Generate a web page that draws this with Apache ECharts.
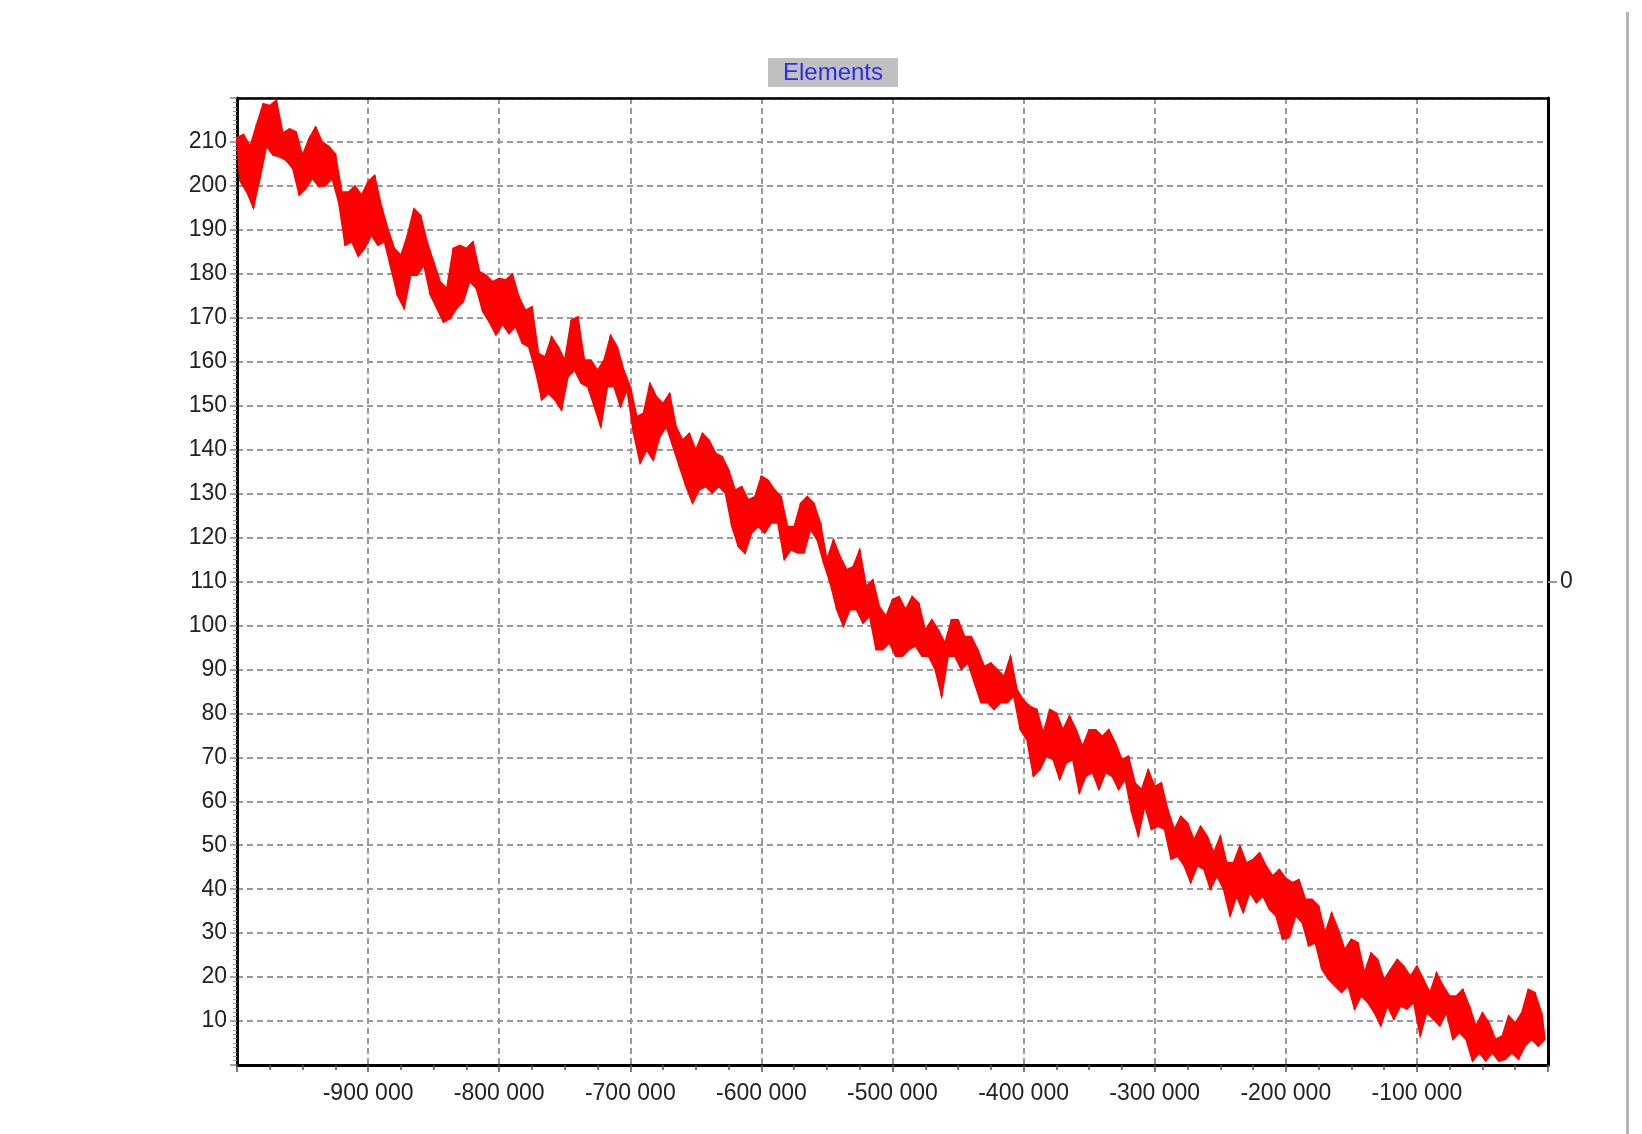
<!DOCTYPE html>
<html>
<head>
<meta charset="utf-8">
<script src="https://cdn.jsdelivr.net/npm/echarts@6/dist/echarts.min.js"></script>
<style>
html,body{margin:0;padding:0;background:#fff;}
#c{width:1642px;height:1134px;}
</style>
</head>
<body>
<div id="c"></div>
<script>
// x position of first bin and bin width (units of the x axis)
const xStart = -1000000;
const binWidth = 5000;
// upper and lower envelope of the noisy "Elements" trace, one value per bin
const hi = [
211,211.7,209,214,218.7,218.3,219.5,212,213,212.3,
207,210.8,213.4,210,209,207.3,198.6,198.6,200,197.9,
201,202.4,195.6,190.3,185.8,184.2,188.8,194.8,193.3,187.3,
182.7,178.2,176.7,185.8,186.5,185.8,187.3,180.5,179.7,178.2,
179,178.6,180,174.8,171.7,172.5,161.9,161.1,165.7,163.4,
160.4,169.5,170.2,160.4,160.4,158.1,160.4,166,163.4,158.1,
154.3,147.5,148.3,155.1,152,150.5,152.8,145.2,142.2,143.7,
139.9,143.7,142.2,139.2,138.4,135.4,130.8,131.6,128.6,129.3,
134,133.1,130.9,129.3,122.5,122.5,127.8,129.3,127.8,123.3,
115,119.5,115.7,112.7,113.4,117.2,108.9,110.4,104.3,102.1,
105.9,106.6,103.6,106.6,105.1,99,101.3,99,96,101.3,
101.3,97.5,97.5,94.5,90.7,91.5,90,88.4,93,85.4,
83,81.6,80.9,75.6,80.9,80.1,76.3,79.4,76.3,72.5,
76.3,76.3,74.8,76.3,73.3,69.5,70.3,64.2,62.7,67.2,
63.4,64.2,58.1,53.6,56.6,55.1,51.3,54.3,52.1,48.3,
52.1,46,46,49.8,46,46.8,48.3,45.3,43,44.5,
42.5,41.5,42.2,37.7,37.7,36.2,30.1,34.6,30.8,26.3,
28.6,27.8,21,25.5,24,19.5,21.8,24,22.5,20.2,
22.5,19.5,16.5,21,18,15.7,15.7,17.2,13.4,8.9,
11.9,9.6,5.8,6.6,11.2,9.6,11.9,17.2,16.5,11.9
];
const lo = [
201,198.6,195,201.7,209,207,206.6,205.8,204,197.9,
199.4,201.7,199.8,200,201.7,196.4,186.5,187.3,184,185.8,
188.8,186.5,187.3,181.2,175,172.1,179.7,179.7,182,175.2,
172.1,169,169.8,172.1,173.6,178.2,176.7,171.4,169,166.1,
168.5,166.4,168,164.2,163.4,158.1,151.3,152.8,151.3,149,
156.6,158.1,155.1,154.3,149.8,145.2,154.3,154.3,149.8,153.6,
143.7,136.9,139.9,137.6,142.9,145.2,140.7,136.1,131.6,127.8,
130.8,131.6,130.1,131.6,130.1,122.5,117.9,116.4,121,122.5,
121,123.3,123.3,115,117.2,116.5,116.5,121.8,119.5,114.2,
109.6,103.6,99.8,103.6,103.6,100.5,102.1,94.5,94.5,96,
93,93,94.5,95.3,93,93,90,83.9,93,93,
90,91.5,86.9,82.4,82.4,80.9,82.4,82.4,83.9,76.3,
74,65.7,67.2,70.3,69.5,65,68.7,69.5,61.9,65.7,
66.5,62.7,66.5,65.7,62.7,65,57.4,52.1,58.9,53.6,
54.3,53.6,46.8,47.5,45.3,41.5,45.3,44.5,40,43,
40,33.9,38.4,34.7,39.2,36.9,38.4,35.4,33.9,28.6,
29,33.9,32.4,27.1,27.8,21.8,19.5,18,16.5,18,
12.7,15.7,14.2,11.9,8.9,13.4,10.4,13.4,12.7,14.2,
6.6,11.9,10.4,8.9,11.9,5.8,7.4,5.8,0.9,2.8,
0.9,2.8,0.9,1.3,2.8,1.3,4.3,5.8,4.3,5.8
];
const titleText = 'Elements';
const xRange = [-1000000, 0];
const xStep = 100000;
const yRange = [0, 220];
const yStep = 10;
const rightAxisValues = [0];

const hiPts = [], loPts = [], lineData = [];
for (let i = 0; i < hi.length; i++) {
  const x = xStart + i * binWidth;
  hiPts.push([x, hi[i]]);
  loPts.push([x + binWidth / 2, lo[i]]);
  lineData.push([x, hi[i]]);
  lineData.push([x + binWidth / 2, lo[i]]);
}

function fmtX(v) {
  const s = String(Math.abs(Math.round(v)));
  const g = s.replace(/\B(?=(\d{3})+(?!\d))/g, ' ');
  return (v < 0 ? '-' : '') + g;
}

const FONT = '"Liberation Sans", Arial, sans-serif';
const gridDash = {color: '#9a9a9a', width: 2, type: [6, 4]};

const chart = echarts.init(document.getElementById('c'), null, {renderer: 'canvas'});
chart.setOption({
  animation: false,
  backgroundColor: '#ffffff',
  grid: {left: 237, right: 94, top: 98, bottom: 69, show: false, containLabel: false},
  graphic: [
    {type: 'rect', left: 768, top: 58, shape: {width: 130, height: 29}, style: {fill: '#c0c0c0'}, z: 10},
    {type: 'text', x: 833, y: 73, style: {text: titleText, fill: '#2a2af5', font: '24px ' + FONT, textAlign: 'center', textVerticalAlign: 'middle'}, z: 11},
    {type: 'rect', left: 1626, top: 12, shape: {width: 3, height: 1122}, style: {fill: '#b4b4b4'}, z: 10}
  ],
  xAxis: [{
    type: 'value', min: xRange[0], max: xRange[1], interval: xStep, position: 'bottom',
    axisLine: {show: true, onZero: false, lineStyle: {color: '#000', width: 3}},
    axisTick: {show: true, length: 7, lineStyle: {color: '#555', width: 1.5}},
    minorTick: {show: true, splitNumber: 4, length: 5, lineStyle: {color: '#555', width: 1.5}},
    splitLine: {show: true, lineStyle: gridDash},
    axisLabel: {show: true, showMinLabel: false, showMaxLabel: false, margin: 17, fontSize: 23, fontFamily: FONT, color: '#222', formatter: fmtX}
  }, {
    type: 'value', min: xRange[0], max: xRange[1], interval: xStep, position: 'top',
    axisLine: {show: true, onZero: false, lineStyle: {color: '#000', width: 2.5}},
    axisTick: {show: false}, axisLabel: {show: false}, splitLine: {show: false}
  }],
  yAxis: [
    {
      type: 'value', min: yRange[0], max: yRange[1], interval: yStep,
      axisLine: {show: true, onZero: false, lineStyle: {color: '#000', width: 3}},
      axisTick: {show: true, length: 7, lineStyle: {color: '#888', width: 1.5}},
      minorTick: {show: true, splitNumber: 10, length: 4, lineStyle: {color: '#999', width: 1}},
      splitLine: {show: true, lineStyle: gridDash},
      axisLabel: {show: true, showMinLabel: false, showMaxLabel: false, margin: 10, fontSize: 23, fontFamily: FONT, color: '#222'}
    },
    {
      type: 'value', position: 'right', min: -1, max: 1, interval: 1,
      axisLine: {show: true, onZero: false, lineStyle: {color: '#000', width: 3}},
      axisTick: {show: true, length: 9, customValues: rightAxisValues, lineStyle: {color: '#999', width: 2}},
      splitLine: {show: false},
      axisLabel: {show: true, customValues: rightAxisValues, margin: 12, fontSize: 23, fontFamily: FONT, color: '#222'}
    }
  ],
  series: [{
    type: 'custom', xAxisIndex: 0, yAxisIndex: 0, data: [hiPts[0]], z: 4, clip: true,
    renderItem: function (params, api) {
      const pts = [];
      for (let i = 0; i < hiPts.length; i++) pts.push(api.coord(hiPts[i]));
      for (let i = loPts.length - 1; i >= 0; i--) pts.push(api.coord(loPts[i]));
      return {type: 'polygon', shape: {points: pts}, style: {fill: '#ff0000', stroke: '#ff0000', lineWidth: 1.5}};
    }
  }, {
    type: 'line', xAxisIndex: 0, yAxisIndex: 0, data: lineData, showSymbol: false, symbol: 'none',
    lineStyle: {color: '#ff0000', width: 2}, clip: true, z: 5
  }]
});
</script>
</body>
</html>
